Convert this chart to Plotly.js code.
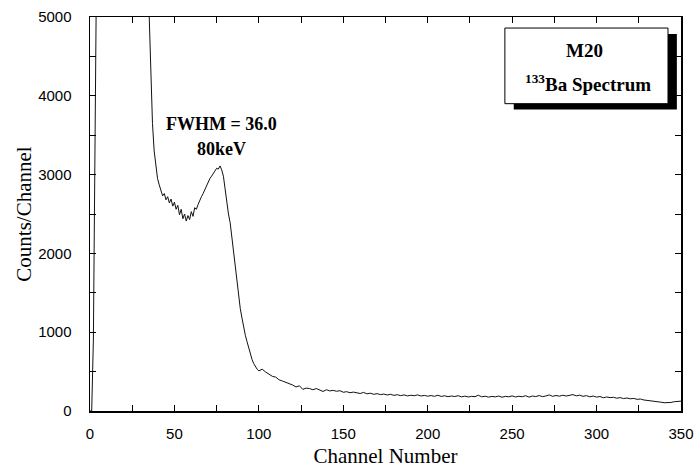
<!DOCTYPE html>
<html>
<head>
<meta charset="utf-8">
<script src="https://cdn.plot.ly/plotly-3.0.1.min.js"></script>
<style>html,body{margin:0;padding:0;background:#fff;}#chart{width:695px;height:468px;}</style>
</head>
<body>
<div id="chart"></div>
<script>
// Counts per channel, channels 0..100 (step 1)
const countsLow = [
  0, 0, 900, 3200, 6000, 9000, 9500, 9800, 9900, 9800,
  9600, 9400, 9200, 9000, 8800, 8600, 8400, 8200, 8000, 7900,
  7800, 7700, 7600, 7500, 7400, 7300, 7200, 7100, 7000, 6900,
  6800, 6600, 6400, 6200, 5800, 5050, 4250, 3650, 3300, 3100,
  2950, 2870, 2800, 2730, 2760, 2680, 2720, 2640, 2690, 2600,
  2650, 2560, 2610, 2490, 2560, 2440, 2500, 2410, 2480, 2430,
  2530, 2470, 2580, 2560, 2620, 2680, 2720, 2760, 2810, 2850,
  2900, 2950, 2980, 3020, 3050, 3080, 3070, 3110, 3060, 2980,
  2820, 2650, 2500, 2390, 2200, 2000, 1880, 1700, 1500, 1300,
  1180, 1060, 960, 880, 790, 720, 650, 600, 560, 530,
  510
];
// Counts per channel, channels 100..350 (step 2)
const countsHigh = [
  510, 530, 495, 470, 440, 430, 395, 380, 365, 340,
  330, 305, 320, 275, 290, 285, 270, 285, 262, 248,
  270, 255, 262, 250, 258, 238, 245, 232, 240, 228,
  222, 236, 218, 226, 212, 220, 208, 215, 203, 212,
  198, 207, 195, 204, 192, 200, 194, 205, 190, 198,
  188, 196, 186, 200, 185, 193, 182, 190, 184, 194,
  180, 189, 178, 186, 182, 200, 180, 188, 176, 185,
  179, 190, 175, 186, 180, 192, 178, 187, 181, 194,
  176, 190, 183, 196, 182, 191, 204, 186, 197, 188,
  200, 190, 199, 208, 192, 201, 186, 195, 180, 190,
  176, 184, 168, 178, 170, 174, 162, 170, 158, 165,
  155, 160, 148, 152, 140, 136, 130, 124, 118, 112,
  105, 102, 108, 118, 122, 125
];
const xTickVals = [0, 50, 100, 150, 200, 250, 300, 350];
const yTickVals = [0, 1000, 2000, 3000, 4000, 5000];
const peakLabel = ["FWHM = 36.0", "80keV"];
const peakLabelX = [78, 78];
const peakLabelY = [3640, 3330];
const boxTitle = "M20";
const boxSubtitle = "<sup>133</sup>Ba Spectrum";

const lineStyle = {color: '#111', width: 1};
const traces = [
  {type: 'scatter', mode: 'lines', x0: 0, dx: 1, y: countsLow, line: lineStyle, hoverinfo: 'skip'},
  {type: 'scatter', mode: 'lines', x0: 100, dx: 2, y: countsHigh, line: lineStyle, hoverinfo: 'skip'}
];

const serif = 'Liberation Serif, Times New Roman, serif';
const sans = 'Liberation Sans, Arial, sans-serif';

const axisCommon = {
  showgrid: false, zeroline: false,
  showline: true, linecolor: '#000', linewidth: 1.5, mirror: 'allticks',
  ticks: 'inside', ticklen: 6, tickwidth: 1, tickcolor: '#000',
  tickfont: {family: sans, size: 15, color: '#000'}
};

const annotations = peakLabel.map((t, i) => ({
  x: peakLabelX[i], y: peakLabelY[i], xref: 'x', yref: 'y', text: '<b>' + t + '</b>',
  xanchor: 'center', yanchor: 'middle',
  showarrow: false, font: {family: serif, size: 18, color: '#000'}
}));
annotations.push({xref: 'paper', yref: 'paper', x: 0.837, y: 0.916, text: '<b>' + boxTitle + '</b>',
  xanchor: 'center', yanchor: 'middle',
  showarrow: false, font: {family: serif, size: 19, color: '#000'}});
annotations.push({xref: 'paper', yref: 'paper', x: 0.842, y: 0.832, text: '<b>' + boxSubtitle + '</b>',
  xanchor: 'center', yanchor: 'middle',
  showarrow: false, font: {family: serif, size: 19, color: '#000'}});

const layout = {
  width: 695, height: 468,
  margin: {l: 90, r: 14, t: 17, b: 57},
  paper_bgcolor: '#fff', plot_bgcolor: '#fff',
  showlegend: false,
  xaxis: Object.assign({}, axisCommon, {
    range: [0, 350], tickvals: xTickVals, ticklabelstandoff: 8,
    minor: {dtick: 25, ticks: 'inside', ticklen: 6, tickcolor: '#000'},
    title: {text: 'Channel Number', font: {family: serif, size: 21, color: '#000'}, standoff: 10}
  }),
  yaxis: Object.assign({}, axisCommon, {
    range: [0, 5000], tickvals: yTickVals, ticklabelstandoff: 14,
    minor: {dtick: 500, ticks: 'inside', ticklen: 6, tickcolor: '#000'},
    title: {text: 'Counts/Channel', font: {family: serif, size: 21, color: '#000'}, standoff: 1}
  }),
  shapes: [
    {type: 'rect', xref: 'paper', yref: 'paper', x0: 0.717, x1: 0.993, y0: 0.765, y1: 0.957,
     fillcolor: '#000', line: {width: 0}},
    {type: 'rect', xref: 'paper', yref: 'paper', x0: 0.702, x1: 0.978, y0: 0.780, y1: 0.972,
     fillcolor: '#fff', line: {color: '#000', width: 1}}
  ],
  annotations: annotations
};

Plotly.newPlot('chart', traces, layout, {staticPlot: true, displayModeBar: false});
</script>
</body>
</html>
